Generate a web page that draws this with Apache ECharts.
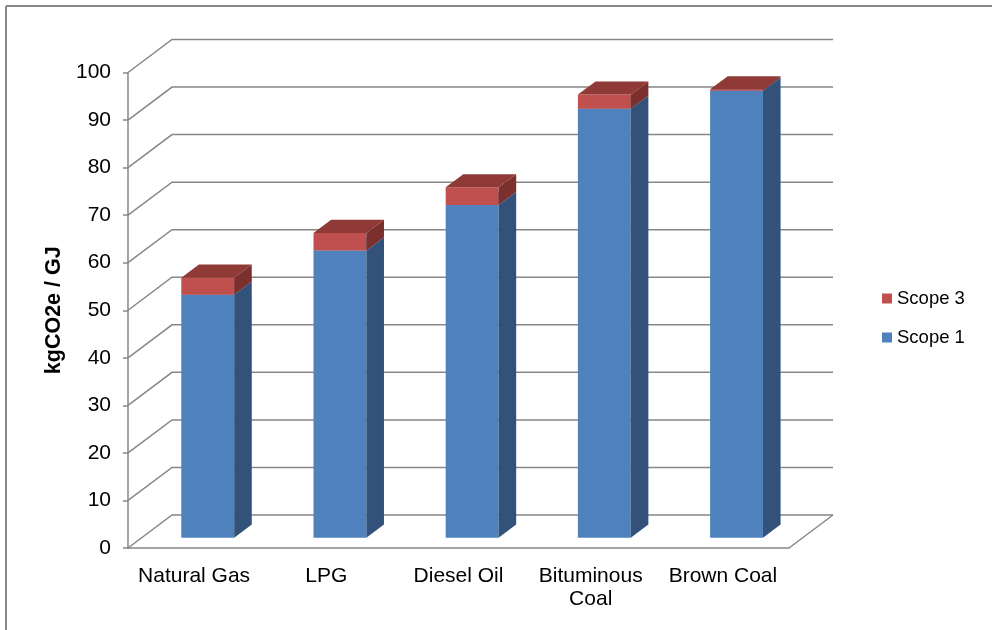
<!DOCTYPE html>
<html>
<head>
    <meta charset="UTF-8">
    <title>Emission factors by fuel</title>
    <script src="https://cdn.jsdelivr.net/npm/echarts/dist/echarts.min.js"></script>
    <style>
        html, body { margin: 0; padding: 0; background: #fff; }
        #chart { width: 992px; height: 630px; }
    </style>
</head>
<body>
    <div id="chart"></div>

    <script>
        // data
        const fuels = ['Natural Gas', 'LPG', 'Diesel Oil', 'Bituminous\nCoal', 'Brown Coal'];
        const scope1 = [51.1, 60.4, 70.0, 90.2, 94.0];
        const scope3 = [3.6, 3.7, 3.7, 3.0, 0.3];
        const yTicks = [0, 10, 20, 30, 40, 50, 60, 70, 80, 90, 100];

        // oblique depth of the 3d box (front plane -> back wall)
        const DEPTH_X = 44, DEPTH_Y = 33;
        const GRID_COLOR = '#878787';

        const chart = echarts.init(document.getElementById('chart'));

        // one cuboid per stacked segment
        function cuboid(front, side, top) {
            return function (params, api) {
                const i = api.value(0), lo = api.value(1), hi = api.value(2);
                const band = api.size([1, 0])[0];
                const w = band * 0.4;
                const p0 = api.coord([i, lo]);
                const p1 = api.coord([i, hi]);
                const sx = DEPTH_X * 0.31, sy = DEPTH_Y * 0.31;
                const dx = DEPTH_X * 0.4, dy = DEPTH_Y * 0.4;
                const x0 = p0[0] - w / 2 + sx, x1 = x0 + w;
                const yb = p0[1] - sy, yt = p1[1] - sy;
                return {
                    type: 'group',
                    children: [
                        { type: 'polygon', shape: { points: [[x0, yb], [x1, yb], [x1, yt], [x0, yt]] }, style: { fill: front } },
                        { type: 'polygon', shape: { points: [[x1, yb], [x1 + dx, yb - dy], [x1 + dx, yt - dy], [x1, yt]] }, style: { fill: side } },
                        { type: 'polygon', shape: { points: [[x0, yt], [x1, yt], [x1 + dx, yt - dy], [x0 + dx, yt - dy]] }, style: { fill: top } }
                    ]
                };
            };
        }

        // back wall grid lines with their diagonal to the front axis
        function wallLine(params, api) {
            const cs = params.coordSys;
            const v = api.value(1);
            const y = api.coord([0, v])[1];
            const left = cs.x, right = cs.x + cs.width;
            const kids = [{
                type: 'polyline',
                shape: { points: [[left, y], [left + DEPTH_X, y - DEPTH_Y], [right + DEPTH_X, y - DEPTH_Y]] },
                style: { stroke: GRID_COLOR, lineWidth: 1.5, fill: null }
            }];
            if (v === yTicks[0]) {
                kids.push({
                    type: 'line',
                    shape: { x1: right, y1: y, x2: right + DEPTH_X, y2: y - DEPTH_Y },
                    style: { stroke: GRID_COLOR, lineWidth: 1.5 }
                });
            }
            return { type: 'group', children: kids };
        }

        const s1Data = fuels.map((f, i) => [i, 0, scope1[i]]);
        const s3Data = fuels.map((f, i) => [i, scope1[i], scope1[i] + scope3[i]]);

        const option = {
            animation: false,
            textStyle: { fontFamily: 'Liberation Sans, Arial, sans-serif' },
            graphic: [
                { type: 'line', shape: { x1: 6, y1: 6, x2: 992, y2: 6 }, style: { stroke: '#8a8a8a', lineWidth: 2 } },
                { type: 'line', shape: { x1: 6, y1: 6, x2: 6, y2: 630 }, style: { stroke: '#8a8a8a', lineWidth: 2 } }
            ],
            legend: {
                data: ['Scope 3', 'Scope 1'],
                orient: 'vertical',
                left: 882,
                top: 289,
                padding: 0,
                icon: 'rect',
                itemWidth: 10,
                itemHeight: 10,
                itemGap: 20,
                textStyle: { fontSize: 18.5, color: '#000' }
            },
            grid: { left: 128, top: 72.5, width: 661, height: 475.5 },
            xAxis: {
                type: 'category',
                data: fuels,
                axisLine: { lineStyle: { color: GRID_COLOR, width: 1.5 } },
                axisTick: { length: 6, lineStyle: { color: GRID_COLOR, width: 1.5 } },
                axisLabel: { interval: 0, fontSize: 21, color: '#000', margin: 17, lineHeight: 23 }
            },
            yAxis: {
                type: 'value',
                min: 0,
                max: 100,
                interval: 10,
                name: 'kgCO2e / GJ',
                nameLocation: 'middle',
                nameRotate: 90,
                nameGap: 62,
                nameTextStyle: { fontSize: 21.5, fontWeight: 'bold', color: '#000' },
                splitLine: { show: false },
                axisLine: { show: true, lineStyle: { color: GRID_COLOR, width: 1.5 } },
                axisTick: { show: true, length: 5, lineStyle: { color: GRID_COLOR, width: 1.5 } },
                axisLabel: { fontSize: 21, color: '#000', margin: 17 }
            },
            series: [
                {
                    name: 'walls',
                    type: 'custom',
                    renderItem: wallLine,
                    data: yTicks.map(v => [0, v]),
                    encode: { x: 0, y: 1 },
                    silent: true,
                    clip: false,
                    z: 1
                },
                {
                    name: 'Scope 1',
                    type: 'custom',
                    renderItem: cuboid('#4F81BD', '#32527A', '#7396C8'),
                    data: s1Data,
                    encode: { x: 0, y: 2 },
                    itemStyle: { color: '#4F81BD' },
                    clip: false,
                    z: 2
                },
                {
                    name: 'Scope 3',
                    type: 'custom',
                    renderItem: cuboid('#C0504D', '#7B302E', '#8F3A37'),
                    data: s3Data,
                    encode: { x: 0, y: 2 },
                    itemStyle: { color: '#C0504D' },
                    clip: false,
                    z: 3
                }
            ]
        };

        chart.setOption(option);
    </script>
</body>
</html>
